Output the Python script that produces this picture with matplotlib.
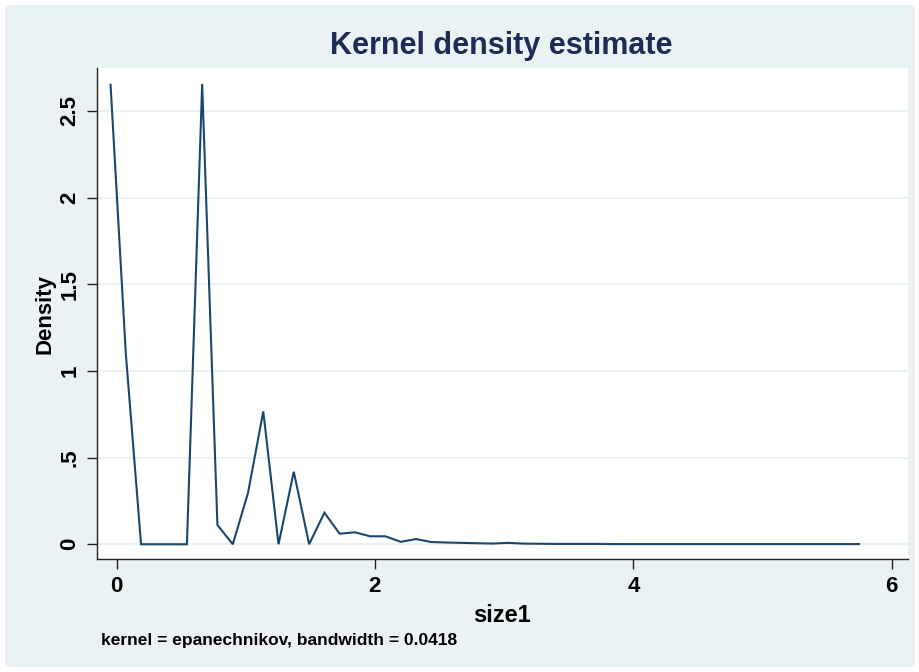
import matplotlib
matplotlib.use("Agg")
import matplotlib.pyplot as plt
from matplotlib.patches import Rectangle

# ---- data ----
size1 = [-0.046, 0.072, 0.190, 0.309, 0.427, 0.545, 0.663, 0.781, 0.900, 1.018,
         1.136, 1.254, 1.372, 1.491, 1.609, 1.727, 1.845, 1.963, 2.082, 2.200,
         2.318, 2.436, 2.554, 2.673, 2.791, 2.909, 3.027, 3.145, 3.264, 3.382,
         3.500, 3.618, 3.736, 3.855, 3.973, 4.091, 4.209, 4.327, 4.446, 4.564,
         4.682, 4.800, 4.918, 5.036, 5.155, 5.273, 5.391, 5.509, 5.627, 5.746]
density = [2.650, 1.100, 0.000, 0.000, 0.000, 0.000, 2.655, 0.111, 0.000, 0.297,
           0.766, 0.000, 0.418, 0.000, 0.182, 0.061, 0.069, 0.046, 0.046, 0.014,
           0.030, 0.013, 0.010, 0.008, 0.006, 0.004, 0.008, 0.004, 0.003, 0.002,
           0.002, 0.002, 0.002, 0.001, 0.001, 0.001, 0.001, 0.001, 0.001, 0.001,
           0.001, 0.001, 0.001, 0.001, 0.001, 0.001, 0.001, 0.001, 0.001, 0.001]
x_ticks = [0, 2, 4, 6]
x_tick_labels = ["0", "2", "4", "6"]
y_ticks = [0, 0.5, 1, 1.5, 2, 2.5]
y_tick_labels = ["0", ".5", "1", "1.5", "2", "2.5"]
title = "Kernel density estimate"
xlabel = "size1"
ylabel = "Density"
note = "kernel = epanechnikov, bandwidth = 0.0418"

FONT = ["Liberation Sans", "DejaVu Sans"]
plt.rcParams["font.family"] = FONT

W, H = 920, 672
fig = plt.figure(figsize=(W / 100, H / 100), dpi=100, facecolor="white")
bg = "#EAF2F3"
fig.patches.append(Rectangle((5 / W, 5 / H), 910 / W, 662 / H,
                             transform=fig.transFigure, facecolor=bg,
                             edgecolor="none", zorder=-10))

ax = fig.add_axes([97 / W, 1 - 559 / H, (908 - 97) / W, (559 - 68) / H])
ax.set_facecolor("white")
ax.plot(size1, density, color="#1A476F", lw=1.5, solid_joinstyle="miter")

ax.set_xlim(-0.151, 6.126)
ax.set_ylim(-0.085, 2.747)
ax.set_xticks(x_ticks)
ax.set_xticklabels(x_tick_labels, fontweight="bold", fontsize=16)
ax.set_yticks(y_ticks)
ax.set_yticklabels(y_tick_labels, rotation=90, va="center", fontweight="bold",
                   fontsize=16)

for s in ["top", "right"]:
    ax.spines[s].set_visible(False)
for s in ["left", "bottom"]:
    ax.spines[s].set_color("#222222")
    ax.spines[s].set_linewidth(1.0)

ax.tick_params(axis="both", direction="out", length=7, width=1.0,
               color="#222222", labelcolor="black", pad=5)
ax.yaxis.grid(True, color="#EAF2F3", lw=1.5)
ax.set_axisbelow(True)

ax.set_xlabel(xlabel, fontsize=17, fontweight="bold", labelpad=5)
ax.set_ylabel(ylabel, fontsize=16, fontweight="bold", labelpad=3)

fig.text(501 / W, 1 - 46 / H, title, ha="center", va="center",
         fontsize=22, fontweight="bold", color="#1E2B57")
fig.text(101 / W, 1 - 640 / H, note, ha="left", va="center",
         fontsize=12.5, fontweight="bold", color="black")

fig.savefig("out.png", dpi=100, facecolor=fig.get_facecolor())
